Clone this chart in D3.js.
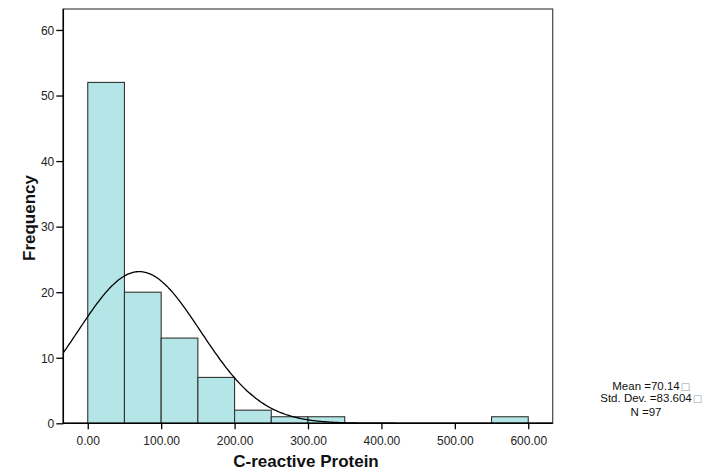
<!DOCTYPE html>
<html><head><meta charset="utf-8">
<script src="https://cdn.jsdelivr.net/npm/d3@7"></script>
<style>body{margin:0;background:#fff}svg{display:block;font-family:"Liberation Sans",Arial,sans-serif}</style>
</head><body><svg id="c" width="715" height="471"></svg>
<script>
const binStarts = [0, 50, 100, 150, 200, 250, 300, 550];
const binCounts = [52, 20, 13, 7, 2, 1, 1, 1];
const binWidth = 50;
const xTicks = [0, 100, 200, 300, 400, 500, 600];
const yTicks = [0, 10, 20, 30, 40, 50, 60];
const statMean = 70.14, statSd = 83.604, statN = 97;
const statLabels = ["Mean =70.14", "Std. Dev. =83.604", "N =97"];

const svg = d3.select("#c");
const L = 63.3, R = 552.7, T = 9, B = 423.3;
const x = d3.scaleLinear().domain([-33.3, 633.3]).range([L, R]);
const y = d3.scaleLinear().domain([0, 63.2]).range([B, T]);

svg.append("rect").attr("x", L).attr("y", T).attr("width", R - L).attr("height", B - T)
  .attr("fill", "none").attr("stroke", "#444").attr("stroke-width", 1.2);

svg.append("defs").append("clipPath").attr("id", "clip")
  .append("rect").attr("x", L).attr("y", T).attr("width", R - L).attr("height", B - T);

svg.selectAll("rect.bar").data(binStarts).enter().append("rect").attr("class", "bar")
  .attr("x", d => x(d)).attr("width", d => x(d + binWidth) - x(d))
  .attr("y", (d, i) => y(binCounts[i])).attr("height", (d, i) => B - y(binCounts[i]))
  .attr("fill", "#b5e6e7").attr("stroke", "#333").attr("stroke-width", 1.1);

// normal curve
const scaleK = statN * binWidth / (statSd * Math.sqrt(2 * Math.PI));
const xs = d3.range(-33.3, 633.4, 2);
const line = d3.line().x(d => x(d)).y(d => y(scaleK * Math.exp(-0.5 * Math.pow((d - statMean) / statSd, 2)))).curve(d3.curveBasis);
svg.append("path").datum(xs).attr("d", line).attr("fill", "none").attr("stroke", "#000")
  .attr("stroke-width", 1.3).attr("clip-path", "url(#clip)");

// axes
const xa = svg.append("g").attr("transform", `translate(0,${B})`)
  .call(d3.axisBottom(x).tickValues(xTicks).tickSize(6).tickSizeOuter(0).tickFormat(d3.format(".2f")));
const ya = svg.append("g").attr("transform", `translate(${L},0)`)
  .call(d3.axisLeft(y).tickValues(yTicks).tickSize(7).tickSizeOuter(0).tickFormat(d3.format("d")));
[xa, ya].forEach(a => {
  a.select(".domain").attr("stroke", "#000").attr("stroke-width", 1.5);
  a.selectAll(".tick line").attr("stroke", "#000").attr("stroke-width", 1.3);
  a.selectAll("text").attr("font-family", '"Liberation Sans",Arial,sans-serif').attr("font-size", 12).attr("fill", "#222");
});
xa.select(".domain").attr("d", `M${L},0H${R}`);
ya.select(".domain").attr("d", `M0,${B}V${T}`);
xa.selectAll("text").attr("dy", null).attr("y", 22);
ya.selectAll("text").attr("x", -9).attr("dy", "0.36em");

svg.append("text").attr("x", 306).attr("y", 467).attr("text-anchor", "middle")
  .attr("font-weight", "bold").attr("font-size", 17).attr("fill", "#111").text("C-reactive Protein");
svg.append("text").attr("transform", "translate(35,218) rotate(-90)").attr("text-anchor", "middle")
  .attr("font-weight", "bold").attr("font-size", 17).attr("fill", "#111").text("Frequency");

const lys = [390, 402, 416];
statLabels.forEach((t, i) => {
  const tx = svg.append("text").attr("x", 646).attr("y", lys[i]).attr("text-anchor", "middle")
    .attr("font-size", 11.5).attr("fill", "#111").text(t);
  if (i < 2) {
    const bb = tx.node().getBBox();
    svg.append("text").attr("x", bb.x + bb.width + 0.5).attr("y", lys[i])
      .attr("font-size", 10).attr("fill", "#999").attr("font-family", "DejaVu Sans").text("\u25A1");
  }
});
</script></body></html>
